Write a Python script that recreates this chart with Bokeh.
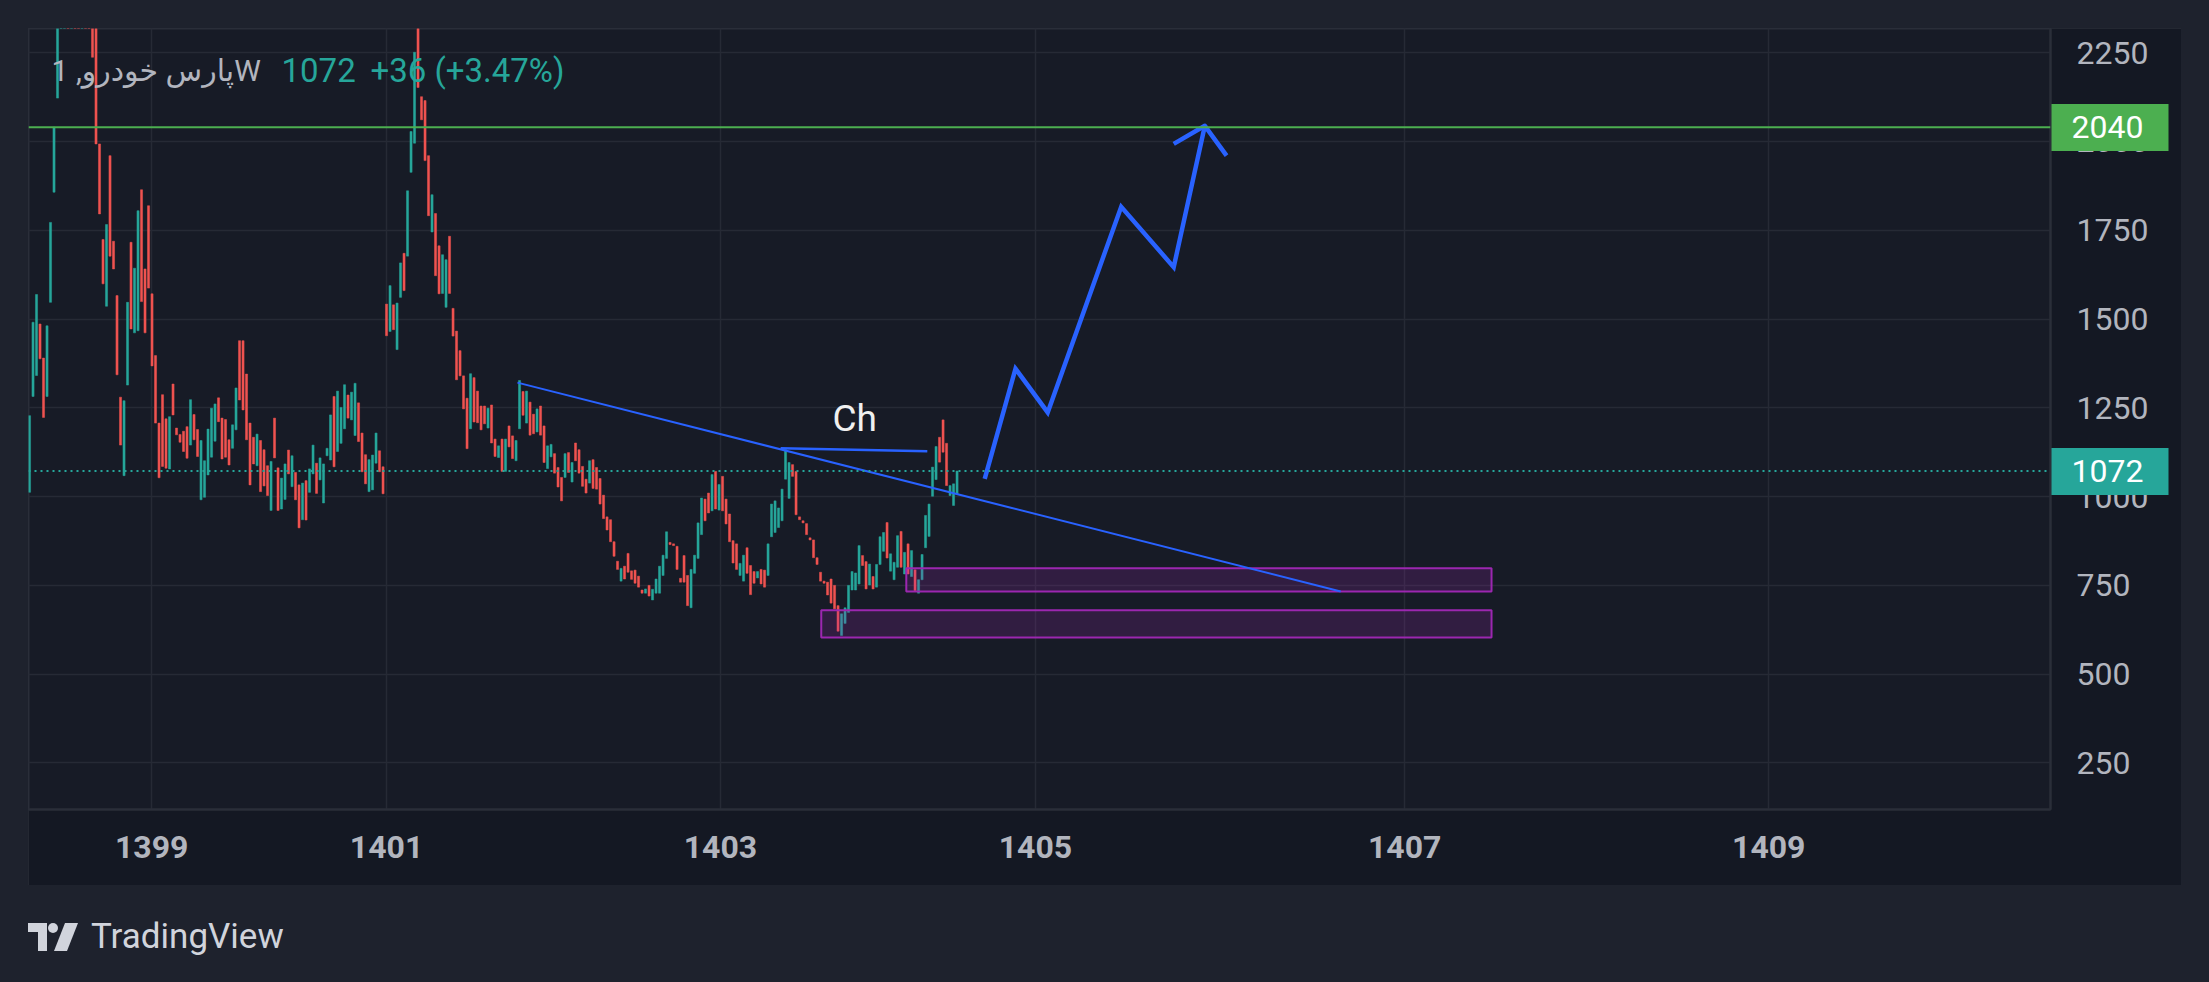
from bokeh.plotting import figure
from bokeh.models import Range1d, FixedTicker, Span, Label, ColumnDataSource, Div, Spacer, LinearAxis
from bokeh.layouts import column
from bokeh.embed import file_html
from bokeh.resources import INLINE

# ---- weekly bars (open / close) ----
opens = [1012, 1282, 1341, 1486, 1390, 1282, 1547, 1857, 2122, 2450,
         2650, 2900, 2750, 3100, 2850, 2700, 2800, 2600, 2450, 2330,
         1993, 1724, 1536, 1960, 1719, 1566, 1280, 1059, 1314, 1716,
         1461, 1467, 1864, 1641, 1819, 1571, 1397, 1207, 1287, 1219,
         1078, 1317, 1193, 1175, 1184, 1197, 1145, 1231, 1189, 991,
         998, 1061, 1111, 1156, 1278, 1221, 1217, 1160, 1136, 1188,
         1439, 1439, 1345, 1207, 1167, 1087, 1158, 1132, 1087, 961,
         1221, 1081, 965, 992, 1131, 1028, 1068, 1033, 935, 1045,
         1012, 1064, 1094, 1047, 982, 1115, 1103, 1282, 1127, 1150,
         1191, 1286, 1216, 1172, 1264, 1179, 1118, 1014, 1019, 1094,
         1129, 1084, 1542, 1465, 1540, 1414, 1561, 1685, 1677, 1913,
         1995, 2420, 2126, 2115, 1960, 1745, 1797, 1706, 1572, 1533,
         1733, 1530, 1466, 1411, 1340, 1277, 1191, 1335, 1297, 1255,
         1255, 1193, 1258, 1162, 1110, 1162, 1071, 1199, 1171, 1101,
         1191, 1296, 1207, 1266, 1232, 1182, 1255, 1199, 1079, 1112,
         1121, 1082, 1054, 1054, 1124, 1041, 1151, 1132, 1085, 1049,
         1038, 1104, 1082, 1051, 1004, 943, 935, 873, 818, 762,
         804, 840, 791, 793, 776, 737, 728, 750, 709, 728,
         728, 778, 826, 871, 867, 860, 770, 834, 778, 687,
         784, 826, 893, 993, 1010, 960, 1071, 962, 1057, 993,
         951, 876, 867, 778, 762, 856, 806, 789, 771, 795,
         793, 778, 887, 899, 913, 932, 1049, 995, 1090, 1071,
         943, 932, 924, 884, 878, 828, 787, 762, 759, 768,
         750, 693, 609, 643, 674, 737, 737, 754, 834, 817,
         751, 775, 745, 809, 846, 927, 790, 766, 801, 902,
         782, 867, 775, 794, 728, 766, 856, 888, 1001, 1048,
         1167, 1216, 1150, 1003, 975, 1008]
closes = [1228, 1491, 1569, 1388, 1223, 1481, 1772, 2040, 2450, 2650,
          2900, 2750, 3100, 2850, 2700, 2800, 2600, 2450, 2237, 1993,
          1796, 1599, 1766, 1677, 1641, 1343, 1145, 1270, 1547, 1472,
          1643, 1805, 1549, 1461, 1587, 1368, 1207, 1053, 1085, 1080,
          1225, 1230, 1174, 1153, 1127, 1108, 1273, 1160, 1113, 1158,
          1101, 1190, 1249, 1261, 1211, 1106, 1111, 1089, 1202, 1306,
          1272, 1244, 1160, 1033, 1092, 1176, 1014, 1030, 1003, 1099,
          1109, 961, 1052, 1092, 1064, 1115, 991, 912, 1038, 934,
          1078, 1145, 1009, 1109, 1092, 1136, 1230, 1084, 1297, 1251,
          1315, 1221, 1294, 1319, 1155, 1070, 1036, 1104, 1117, 1179,
          1070, 1008, 1453, 1594, 1470, 1545, 1658, 1580, 1861, 2028,
          2251, 2152, 2061, 1946, 1791, 1850, 1622, 1571, 1681, 1667,
          1572, 1452, 1329, 1340, 1247, 1135, 1346, 1210, 1208, 1188,
          1205, 1249, 1151, 1113, 1143, 1071, 1162, 1140, 1107, 1158,
          1327, 1229, 1297, 1173, 1177, 1247, 1173, 1096, 1143, 1147,
          1066, 1027, 988, 1121, 1068, 1096, 1101, 1066, 1029, 1010,
          1101, 1023, 1021, 979, 938, 906, 873, 832, 795, 798,
          768, 787, 767, 756, 745, 728, 740, 720, 739, 768,
          804, 835, 901, 865, 862, 795, 759, 759, 693, 795,
          835, 926, 996, 932, 954, 1062, 965, 1034, 960, 923,
          873, 813, 795, 812, 835, 784, 724, 756, 789, 754,
          745, 867, 979, 988, 968, 1021, 1132, 1096, 1057, 949,
          935, 926, 893, 878, 828, 809, 762, 756, 723, 700,
          684, 621, 670, 687, 750, 789, 785, 862, 806, 740,
          810, 740, 809, 887, 899, 827, 839, 815, 890, 801,
          843, 782, 848, 735, 766, 837, 947, 979, 1083, 1141,
          1097, 1125, 1031, 1031, 1036, 1072]
bar_index = list(range(len(opens)))

# ---- axes ----
price_ticks = [250, 500, 750, 1000, 1250, 1500, 1750, 2000, 2250]
year_tick_pos = [34.9, 102.0, 197.4, 287.4, 392.9, 496.9]
year_labels = ["1399", "1401", "1403", "1405", "1407", "1409"]

# ---- drawings ----
resistance_level = 2040
last_price = 1072
trend_x = [139.4, 374.6]
trend_y = [1321, 733]
ch_line_x = [214.6, 256.5]
ch_line_y = [1136, 1128]
proj_x = [272.9, 281.7, 290.9, 311.9, 326.9, 335.8]
proj_y = [1050, 1360, 1237, 1816, 1646, 2044]
head_x = [326.9, 335.8, 342.0]
head_y = [1993, 2044, 1960]
zone_left = [250.5, 226.2]
zone_right = [417.7, 417.7]
zone_top = [798, 680]
zone_bottom = [733, 603]

UP = "#26a69a"
DOWN = "#ef5350"
FONT = "Roboto, 'DejaVu Sans', sans-serif"

p = figure(frame_width=2022, frame_height=781,
           x_range=Range1d(-0.29, 577.4), y_range=Range1d(119, 2318),
           output_backend="svg", toolbar_location=None, y_axis_location="right",
           background_fill_color="#171b26", border_fill_color="#141823",
           min_border_left=0, min_border_top=0, min_border_right=131, min_border_bottom=76)
p.outline_line_color = "#2a2e39"
p.outline_line_width = 2
p.styles = {"outline": "2px solid #2a2e39", "outline-offset": "-2px"}

# grid
p.xgrid.ticker = FixedTicker(ticks=year_tick_pos)
p.ygrid.ticker = FixedTicker(ticks=price_ticks)
p.grid.grid_line_color = "#262a35"
p.grid.grid_line_width = 1.5

# axes
yax = p.yaxis[0]
yax.ticker = FixedTicker(ticks=price_ticks)
yax.major_label_text_font = FONT
yax.major_label_text_font_size = "32px"
yax.major_label_text_color = "#b2b5be"
yax.major_tick_line_color = None
yax.minor_tick_line_color = None
yax.axis_line_color = "#2a2e39"
yax.axis_line_width = 2
yax.major_label_standoff = 20

xax = p.xaxis[0]
xax.ticker = FixedTicker(ticks=year_tick_pos)
xax.major_label_overrides = {pos: lab for pos, lab in zip(year_tick_pos, year_labels)}
xax.major_label_text_font = FONT
xax.major_label_text_font_size = "32px"
xax.major_label_text_font_style = "bold"
xax.major_label_text_color = "#b2b5be"
xax.major_tick_line_color = None
xax.minor_tick_line_color = None
xax.axis_line_color = "#2a2e39"
xax.axis_line_width = 2
xax.major_label_standoff = 20

# price badges: extra right axes whose thick ticks form the coloured box
def badge_axis(level, col):
    ax = LinearAxis(ticker=FixedTicker(ticks=[level]))
    ax.axis_line_color = None
    ax.minor_tick_line_color = None
    ax.major_tick_line_color = col
    ax.major_tick_line_width = 47
    ax.major_tick_line_cap = "butt"
    ax.major_tick_in = 100
    ax.major_tick_out = 17
    ax.major_label_standoff = -97
    ax.major_label_text_font = FONT
    ax.major_label_text_font_size = "32px"
    ax.major_label_text_color = "#ffffff"
    return ax

p.add_layout(badge_axis(resistance_level, "#4caf50"), "right")
p.add_layout(badge_axis(last_price, UP), "right")

# candles
colors = [UP if c >= o else DOWN for o, c in zip(opens, closes)]
src = ColumnDataSource(dict(x=bar_index,
                            top=[max(o, c) for o, c in zip(opens, closes)],
                            bottom=[min(o, c) for o, c in zip(opens, closes)],
                            color=colors))
p.vbar(x="x", top="top", bottom="bottom", width=0.6, fill_color="color",
       line_color="color", line_width=0.5, source=src)

# zones
p.quad(left=zone_left, right=zone_right, top=zone_top, bottom=zone_bottom,
       fill_color="#9c27b0", fill_alpha=0.2, line_color="#9c27b0", line_width=2)

# horizontal levels
p.add_layout(Span(location=resistance_level, dimension="width",
                  line_color="#4caf50", line_width=2))
p.add_layout(Span(location=last_price, dimension="width",
                  line_color=UP, line_width=2, line_dash="2 4"))

# trend lines
p.line(trend_x, trend_y, line_color="#2962ff", line_width=2)
p.line(ch_line_x, ch_line_y, line_color="#2962ff", line_width=2.5)
p.line(proj_x, proj_y, line_color="#2962ff", line_width=4.5, line_join="miter")
p.line(head_x, head_y, line_color="#2962ff", line_width=4.5, line_join="round")

# texts
p.add_layout(Label(x=6.3, y=2200, text="پارس خودرو, 1W", text_font=FONT,
                   text_font_size="30px", text_color="#b2b5be", text_baseline="alphabetic"))
p.add_layout(Label(x=72.0, y=2200, text="1072", text_font=FONT,
                   text_font_size="33px", text_color=UP, text_baseline="alphabetic"))
p.add_layout(Label(x=97.4, y=2200, text="+36 (+3.47%)", text_font=FONT,
                   text_font_size="33px", text_color=UP, text_baseline="alphabetic"))
p.add_layout(Label(x=229.4, y=1220, text="Ch", text_font=FONT,
                   text_font_size="37px", text_color="#f0f0f0", text_baseline="alphabetic"))

logo = Div(text=(
    '<div style="display:flex;align-items:center;gap:9px;margin-left:-5px;'
    'font-family:Roboto,sans-serif;font-size:35px;color:#d1d4dc;">'
    '<svg width="54" height="28" viewBox="0 0 54 28">'
    '<path d="M0 0H19V28H10V9H0Z" fill="#d1d4dc"/>'
    '<circle cx="25" cy="5" r="5" fill="#d1d4dc"/>'
    '<path d="M37 0H50L39 28H26Z" fill="#d1d4dc"/></svg>'
    '<span>TradingView</span></div>'), width=400, height=60)

layout = column(p, Spacer(width=28, height=22), logo)

html = file_html(layout, INLINE)
html = html.replace(
    "</head>",
    "<style>html,body{background:#1e222d;} body{padding:28px 0 0 28px !important;}</style></head>", 1)
open("out.html", "w").write(html)
